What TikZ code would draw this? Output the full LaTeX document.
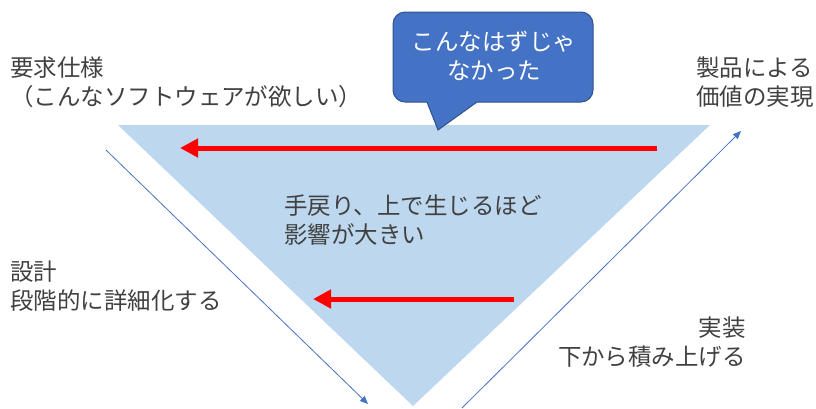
\documentclass[tikz,border=0pt]{standalone}
\usepackage{fontspec}
\setmainfont{Noto Sans CJK JP}
\usetikzlibrary{arrows.meta}
\definecolor{tri}{HTML}{BDD7EE}
\definecolor{acc}{HTML}{4472C4}
\definecolor{accd}{HTML}{2F528F}
\definecolor{txt}{HTML}{404040}
\tikzset{
  lbl/.style={text=txt, font=\fontsize{17.6pt}{21.5pt}\selectfont, inner sep=0pt},
  redarrow/.style={draw=red, line width=3.75pt, -{Triangle[length=13.5pt,width=13.5pt]}},
  bluearrow/.style={draw=acc, line width=0.6pt, -{Triangle[length=6pt,width=5pt]}},
}
\begin{document}
\begin{tikzpicture}[x=0.75pt,y=-0.75pt]
\useasboundingbox (0,0) rectangle (816,408);
% triangle
\fill[tri] (118,125) -- (710,125) -- (413,406) -- cycle;
% red arrows
\coordinate (r1s) at (657,148); \coordinate (r1e) at (180,148);
\coordinate (r2s) at (514,299); \coordinate (r2e) at (313,299);
\draw[redarrow] (r1s) -- (r1e);
\draw[redarrow] (r2s) -- (r2e);
% blue arrows
\coordinate (b1s) at (106,150); \coordinate (b1e) at (368,404);
\coordinate (b2s) at (462,408); \coordinate (b2e) at (741,131);
\draw[bluearrow] (b1s) -- (b1e);
\draw[bluearrow] (b2s) -- (b2e);
% callout
\path[draw=accd, fill=acc, line width=0.75pt] (427,102) [rounded corners=9pt]-- (393,102) -- (393,12) -- (593,12) -- (593,102) [sharp corners]-- (477,102) -- (438,130) -- cycle;
\node[lbl, text=white, align=center] (callout) at (494,56) {こんなはずじゃ\\なかった};
% labels
\node[lbl, anchor=west, align=left] (req) at (10,82) {要求仕様\\（こんなソフトウェアが欲しい）};
\node[lbl, anchor=west, align=left] (val) at (696,82) {製品による\\価値の実現};
\node[lbl, anchor=west, align=left] (design) at (10,286) {設計\\段階的に詳細化する};
\node[lbl, anchor=east, align=right] (impl) at (746,342) {実装\\下から積み上げる};
\node[lbl, anchor=west, align=left] (rework) at (284,220) {手戻り、上で生じるほど\\影響が大きい};
\end{tikzpicture}
\end{document}
